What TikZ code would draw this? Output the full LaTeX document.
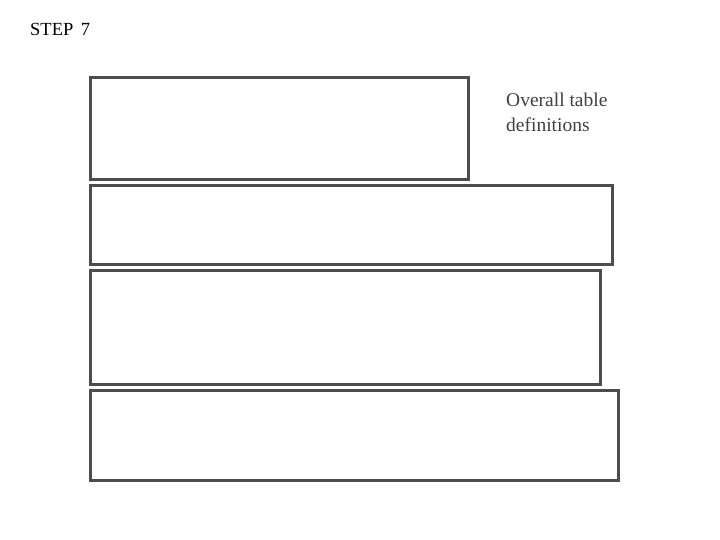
\documentclass[tikz,border=0pt]{standalone}
\usepackage{fontspec}
\setmainfont{Liberation Serif}
\usepackage{tikz}
\definecolor{boxgray}{HTML}{4D4D4D}
\definecolor{textgray}{HTML}{404040}
\tikzset{
  tablebox/.style={draw=boxgray, line width=3pt},
  notetext/.style={anchor=north west, align=left, text=textgray, font=\fontsize{19.5}{25}\selectfont, inner sep=0pt}
}

\begin{document}
\begin{tikzpicture}[x=1pt,y=-1pt]
\useasboundingbox (0,0) rectangle (720,540);
\node[anchor=base west, inner sep=0pt, font=\fontsize{18.5}{20}\selectfont] (title) at (30,36) {STEP\hspace{0.4em}7};
\draw[tablebox] (90,78) rectangle (468,180);
\draw[tablebox] (90,186) rectangle (612,264);
\draw[tablebox] (90,270) rectangle (600,384);
\draw[tablebox] (90,390) rectangle (618,480);
\node[notetext] (note) at (506,93) {Overall table\\definitions};
\end{tikzpicture}
\end{document}
